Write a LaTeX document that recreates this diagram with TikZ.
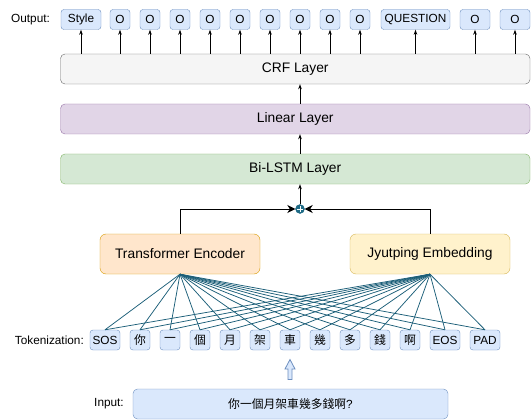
\documentclass[tikz,border=0pt]{standalone}
\usepackage{fontspec}
\setmainfont{Liberation Sans}
\newfontfamily\cjk{Noto Sans CJK TC}
\usetikzlibrary{arrows.meta}
\definecolor{tokfill}{HTML}{DAE8FC}
\definecolor{tokdraw}{HTML}{6C8EBF}
\definecolor{crffill}{HTML}{F5F5F5}
\definecolor{crfdraw}{HTML}{666666}
\definecolor{linfill}{HTML}{E1D5E7}
\definecolor{lindraw}{HTML}{9673A6}
\definecolor{lstmfill}{HTML}{D5E8D4}
\definecolor{lstmdraw}{HTML}{82B366}
\definecolor{encfill}{HTML}{FFE6CC}
\definecolor{encdraw}{HTML}{D79B00}
\definecolor{jyfill}{HTML}{FFF2CC}
\definecolor{jydraw}{HTML}{D6B656}
\definecolor{fan}{HTML}{1B5E78}
\definecolor{plusc}{HTML}{1F6B86}
\begin{document}
\begin{tikzpicture}[x=1pt,y=-1pt,
  tok/.style={draw=tokdraw, fill=tokfill, rounded corners=3pt, minimum height=20pt, minimum width=20pt, inner sep=0pt, font=\fontsize{11.8}{13}\selectfont},
  layer/.style={rounded corners=4.5pt, minimum width=469.5pt, minimum height=30pt, inner sep=0pt, font=\fontsize{13.8}{16}\selectfont},
  enc/.style={rounded corners=6pt, minimum width=160pt, minimum height=40pt, inner sep=0pt, font=\fontsize{13.8}{16}\selectfont},
  lbl/.style={inner sep=0pt, font=\fontsize{11.8}{13}\selectfont},
  arr/.style={-{Stealth[length=5pt,width=3.5pt]}, line width=0.8pt},
  bigarr/.style={-{Stealth[length=8pt,width=8pt,inset=2.5pt]}, line width=0.8pt},
  fanline/.style={draw=fan, line width=0.75pt}
]
\useasboundingbox (0,0) rectangle (531,420);

% output row
\node[lbl, anchor=west] (outlbl) at (11,19.5) {Output:};
\node[tok, minimum width=40pt] (o1) at (81,19.5) {Style};
\node[tok] (o2) at (120,19.5) {O};
\node[tok] (o3) at (150,19.5) {O};
\node[tok] (o4) at (180,19.5) {O};
\node[tok] (o5) at (210,19.5) {O};
\node[tok] (o6) at (240,19.5) {O};
\node[tok] (o7) at (270,19.5) {O};
\node[tok] (o8) at (300,19.5) {O};
\node[tok] (o9) at (330,19.5) {O};
\node[tok] (o10) at (360,19.5) {O};
\node[tok, minimum width=69pt] (o11) at (415.5,19.5) {QUESTION};
\node[tok, minimum width=30pt] (o12) at (475,19.5) {O};
\node[tok, minimum width=30pt] (o13) at (515,19.5) {O};

% layers
\node[layer, draw=crfdraw, fill=crffill] (crf) at (295.25,69) {CRF Layer};
\node[layer, draw=lindraw, fill=linfill] (lin) at (295.25,119) {Linear Layer};
\node[layer, draw=lstmdraw, fill=lstmfill] (lstm) at (295.25,169) {Bi-LSTM Layer};

\foreach \i in {1,...,13} {
  \draw[arr] (crf.north -| o\i) -- (o\i.south);
}

% plus
\node[circle, fill=plusc, draw=plusc, minimum size=9pt, inner sep=0pt] (plus) at (300,209) {};
\draw[white, line width=1pt] ([xshift=-3.3pt]plus.center) -- ([xshift=3.3pt]plus.center)
  ([yshift=-3.3pt]plus.center) -- ([yshift=3.3pt]plus.center);

\draw[arr] (lin.north -| plus) -- (crf.south -| plus);
\draw[arr] (lstm.north -| plus) -- (lin.south -| plus);
\draw[arr] (plus.north) -- (lstm.south -| plus);

% encoders
\node[enc, draw=encdraw, fill=encfill] (te) at (180,254) {Transformer Encoder};
\node[enc, draw=jydraw, fill=jyfill] (je) at (430,254) {Jyutping Embedding};

\draw[bigarr] (te.north) |- (plus.west);
\draw[bigarr] (je.north) |- (plus.east);

% tokens
\node[lbl, anchor=east] (toklbl) at (84,340) {Tokenization:};
\node[tok, minimum width=30pt] (t1) at (105,340) {SOS};
\node[tok] (t2) at (140,340) {\cjk 你};
\node[tok] (t3) at (170,340) {\cjk 一};
\node[tok] (t4) at (200,340) {\cjk 個};
\node[tok] (t5) at (230,340) {\cjk 月};
\node[tok] (t6) at (260,340) {\cjk 架};
\node[tok] (t7) at (290,340) {\cjk 車};
\node[tok] (t8) at (320,340) {\cjk 幾};
\node[tok] (t9) at (350,340) {\cjk 多};
\node[tok] (t10) at (380,340) {\cjk 錢};
\node[tok] (t11) at (410,340) {\cjk 啊};
\node[tok, minimum width=30pt] (t12) at (445,340) {EOS};
\node[tok, minimum width=30pt] (t13) at (485,340) {PAD};

\foreach \i in {1,...,13} {
  \draw[fanline] (te.south) -- (t\i.north);
  \draw[fanline] (je.south) -- (t\i.north);
}

% input
\node[lbl] (inlbl) at (109,404) {Input:};
\node[draw=tokdraw, fill=tokfill, rounded corners=4.5pt, minimum width=315pt, minimum height=30pt, inner sep=0pt, font=\fontsize{11.8}{13}\selectfont] (inp) at (290.5,404) {{\cjk 你一個月架車幾多錢啊}?};

% block arrow
\draw[draw=tokdraw, fill=tokfill, line width=0.8pt, line join=miter]
  (288,379.5) -- (288,369) -- (285,369) -- (290,359.5) -- (295,369) -- (292,369) -- (292,379.5) -- cycle;
\end{tikzpicture}
\end{document}
